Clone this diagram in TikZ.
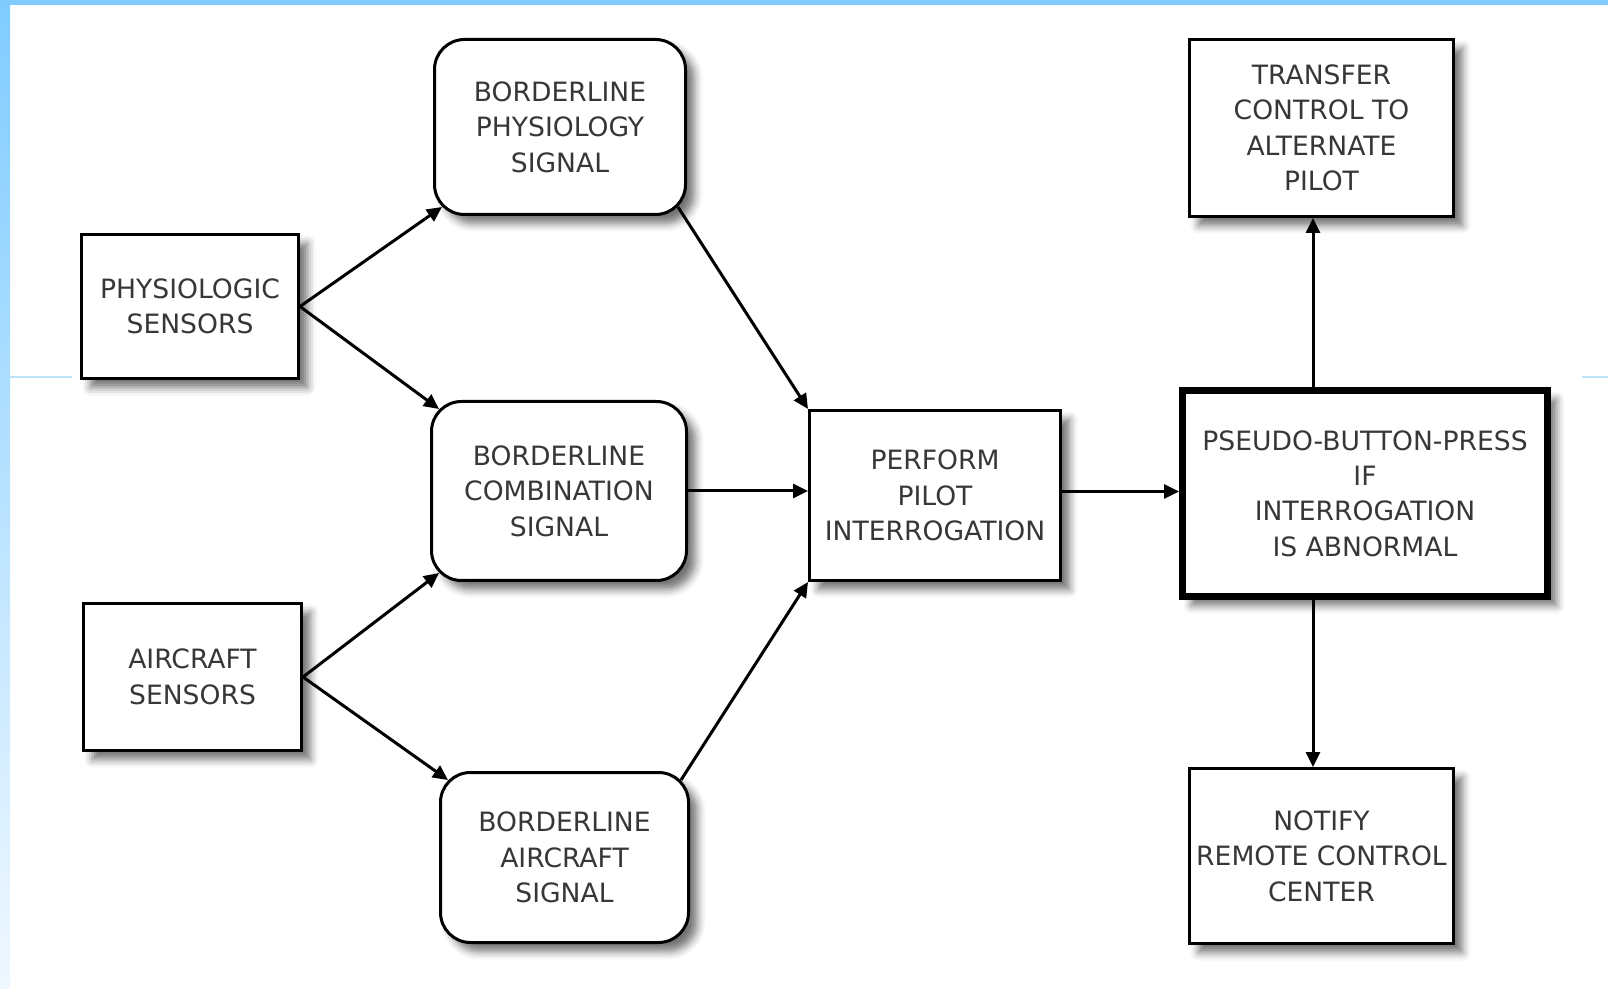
\documentclass[tikz,border=0pt]{standalone}
\usepackage{fontspec}
\setmainfont{DejaVu Sans}
\usetikzlibrary{shapes}
\usetikzlibrary{arrows.meta}
\usetikzlibrary{shadows.blur}
\definecolor{slideblue}{RGB}{128,204,255}
\definecolor{slidepale}{RGB}{240,248,255}
\definecolor{ruleblue}{RGB}{190,228,250}
\definecolor{boxtext}{RGB}{55,55,55}

\begin{document}
\begin{tikzpicture}[x=0.5pt, y=-0.5pt,
	box/.style={draw, line width=1.5pt, fill=white, align=center, inner sep=0pt, text=boxtext,
		font=\fontsize{13.3}{17.7}\selectfont,
		blur shadow={shadow xshift=4.5pt, shadow yshift=-4.5pt, shadow blur radius=4pt, shadow opacity=55}},
	sig/.style={box, rounded corners=15pt},
	big/.style={box, line width=3.5pt},
	arr/.style={line width=1.5pt, -{Triangle[length=7.5pt,width=7pt]}}]
	  \useasboundingbox (0,0) rectangle (1608,989);
	  \shade[top color=slideblue, bottom color=slidepale] (0,0) rectangle (10,989);
	  \fill[slideblue] (0,0) rectangle (1608,5);
	  \draw[ruleblue, line width=0.6pt] (10,377) -- (72,377);
	  \draw[ruleblue, line width=0.6pt] (1582,377) -- (1608,377);

	  \node[box, minimum width=108.5pt, minimum height=72pt] (physs) at (190,306.5) {PHYSIOLOGIC\\SENSORS};
	  \node[box, minimum width=109pt, minimum height=73.5pt] (airs) at (192.5,677) {AIRCRAFT\\SENSORS};
	  \node[sig, minimum width=125.5pt, minimum height=87.5pt] (bps) at (560,127) {BORDERLINE\\PHYSIOLOGY\\SIGNAL};
	  \node[sig, minimum width=127.5pt, minimum height=89.5pt] (bcs) at (559,491) {BORDERLINE\\COMBINATION\\SIGNAL};
	  \node[sig, minimum width=124pt, minimum height=85pt] (bas) at (564.5,857.5) {BORDERLINE\\AIRCRAFT\\SIGNAL};
	  \node[box, minimum width=125.5pt, minimum height=85pt] (perf) at (935,495.5) {PERFORM\\PILOT\\INTERROGATION};
	  \node[big, minimum width=182.5pt, minimum height=103pt] (pseudo) at (1365,493.5) {PSEUDO-BUTTON-PRESS\\IF\\INTERROGATION\\IS ABNORMAL};
	  \node[box, minimum width=132pt, minimum height=88.5pt] (transfer) at (1321.5,128) {TRANSFER\\CONTROL TO\\ALTERNATE\\PILOT};
	  \node[box, minimum width=132pt, minimum height=87.5pt] (notify) at (1321.5,856) {NOTIFY\\REMOTE CONTROL\\CENTER};
	  \coordinate (vline) at (1313,0);

	  \draw[arr] (physs.east) -- ([shift={(9,-9)}]bps.south west);
	  \draw[arr] (physs.east) -- ([shift={(9,9)}]bcs.north west);
	  \draw[arr] (airs.east) -- ([shift={(9,-9)}]bcs.south west);
	  \draw[arr] (airs.east) -- ([shift={(9,9)}]bas.north west);
	  \draw[arr] ([shift={(-9,-9)}]bps.south east) -- (perf.north west);
	  \draw[arr] (bcs.east) -- (bcs.east -| perf.west);
	  \draw[arr] ([shift={(-9,9)}]bas.north east) -- (perf.south west);
	  \draw[arr] ([yshift=2pt]perf.east) -- ([yshift=2pt]perf.east -| pseudo.west);
	  \draw[arr] (pseudo.north -| vline) -- (transfer.south -| vline);
	  \draw[arr] (pseudo.south -| vline) -- (notify.north -| vline);
	\end{tikzpicture}
\end{document}
